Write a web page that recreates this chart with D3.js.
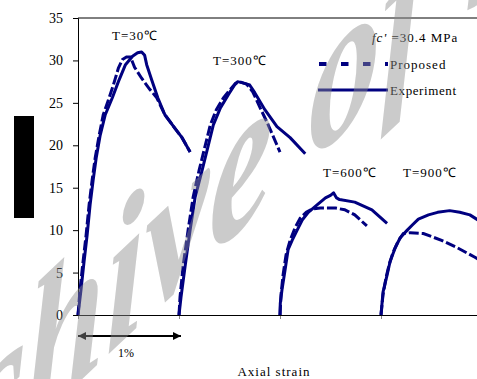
<!DOCTYPE html>
<html><head><meta charset="utf-8">
<script src="https://cdn.jsdelivr.net/npm/d3@7"></script>
<style>body{margin:0;background:#fff}svg{display:block}text{font-family:"Liberation Serif","Times New Roman",serif}</style>
</head><body>
<svg id="c" width="477" height="379"></svg>
<script>
// ---- data ----
const temperatures = ["T=30℃","T=300℃","T=600℃","T=900℃"];
const strainShift = [0, 1, 2, 3]; // each curve shifted by 1% strain
const yTicks = [0,5,10,15,20,25,30,35];
const xTicks = [0,1,2,3];

const exp30Strain = [0,0.03,0.06,0.09,0.12,0.15,0.18,0.22,0.27,0.34,0.40,0.47,0.54,0.59,0.63,0.66,0.68,0.73,0.79,0.86,0.96,1.03,1.11];
const exp30Stress = [0,3.0,6.3,9.4,13.0,15.9,18.5,21.2,23.6,25.6,27.5,29.5,30.5,30.9,31.0,30.6,29.5,27.7,25.6,23.6,22.0,20.9,19.2];
const pro30Strain = [0,0.02,0.05,0.08,0.11,0.14,0.17,0.21,0.25,0.30,0.35,0.40,0.44,0.48,0.52,0.56,0.63,0.71,0.78,0.86,0.96,1.03,1.11];
const pro30Stress = [0,3.0,6.3,9.4,13.0,15.9,18.5,21.2,23.6,25.3,27.1,29.1,30.1,30.4,30.4,29.2,27.9,26.6,25.6,23.6,22.0,20.9,19.2];

const exp300Strain = [0,0.02,0.06,0.11,0.16,0.23,0.29,0.34,0.41,0.49,0.55,0.58,0.65,0.70,0.75,0.85,0.97,1.10,1.25];
const exp300Stress = [0,2.1,5.7,10.0,13.9,17.1,20.0,22.4,24.4,26.0,27.1,27.5,27.3,27.1,26.2,24.2,22.2,20.9,19.0];
const pro300Strain = [0,0.01,0.04,0.09,0.14,0.20,0.26,0.31,0.37,0.44,0.51,0.56,0.60,0.67,0.73,0.80,0.88,1.00];
const pro300Stress = [0,2.1,5.7,10.0,13.9,17.1,20.0,22.4,24.2,25.6,26.6,27.3,27.5,27.2,26.3,24.5,22.5,19.2];

const exp600Strain = [0,0.003,0.02,0.05,0.08,0.12,0.17,0.22,0.28,0.37,0.45,0.50,0.53,0.56,0.59,0.74,0.91,1.06];
const exp600Stress = [0,1.4,3.0,5.3,7.7,8.8,10.0,11.2,12.1,13.0,13.8,14.1,14.4,13.8,13.6,13.3,12.4,10.8];
const pro600Strain = [0,0.01,0.03,0.06,0.10,0.15,0.20,0.26,0.32,0.40,0.55,0.64,0.74,0.86];
const pro600Stress = [0,2.4,4.7,7.1,8.8,10.3,11.4,12.1,12.5,12.6,12.6,12.4,11.8,10.5];

const exp900Strain = [0,0.02,0.06,0.09,0.14,0.19,0.26,0.31,0.37,0.47,0.56,0.68,0.78,0.88,0.96,1.03];
const exp900Stress = [0,2.7,4.7,6.3,7.9,9.1,10.0,10.6,11.3,11.8,12.1,12.3,12.1,11.8,11.2,10.6];
const pro900Strain = [0,0.02,0.05,0.08,0.12,0.17,0.22,0.29,0.42,0.60,0.76,0.93,1.03];
const pro900Stress = [0,2.4,4.4,5.9,7.4,8.7,9.6,9.7,9.6,8.8,7.9,6.8,6.1];

const experimentStrain = [exp30Strain, exp300Strain, exp600Strain, exp900Strain];
const experimentStress = [exp30Stress, exp300Stress, exp600Stress, exp900Stress];
const proposedStrain = [pro30Strain, pro300Strain, pro600Strain, pro900Strain];
const proposedStress = [pro30Stress, pro300Stress, pro600Stress, pro900Stress];

// ---- drawing ----
(function draw() {
const svg = d3.select("#c");
const W = 477, H = 379;
const mLeft = 78, mTop = 18, mBottom = 315;
const x = d3.scaleLinear().domain([0,4]).range([mLeft, mLeft + 404]);
const y = d3.scaleLinear().domain([0,35]).range([mBottom, mTop]);
const navy = "#000080";

svg.append("rect").attr("width", W).attr("height", H).attr("fill", "#fff");

// frame top
svg.append("line").attr("x1", mLeft).attr("x2", W).attr("y1", y(35)).attr("y2", y(35))
  .attr("stroke", "#000").attr("stroke-width", 1);

// y axis
const ya = svg.append("g").attr("transform", `translate(${mLeft},0)`)
  .call(d3.axisLeft(y).tickValues(yTicks).tickSize(5).tickPadding(10));
ya.select(".domain").attr("stroke", "#000");
ya.selectAll(".tick line").attr("stroke", "#000");
ya.selectAll("text").attr("font-size", 14).attr("font-family", "Liberation Serif").attr("fill", "#000");

// x axis
const xa = svg.append("g").attr("transform", `translate(0,${mBottom})`)
  .call(d3.axisBottom(x).tickValues(xTicks).tickSize(4).tickFormat(""));
xa.select(".domain").remove();
xa.selectAll(".tick line").attr("stroke", "#888");
svg.append("line").attr("x1", mLeft).attr("x2", W).attr("y1", mBottom + 0.5).attr("y2", mBottom + 0.5)
  .attr("stroke", "#000");

// curves
const line = d3.line().x(d => x(d[0])).y(d => y(d[1]));
const clip = svg.append("clipPath").attr("id", "pc");
clip.append("rect").attr("x", mLeft - 3).attr("y", 0).attr("width", W).attr("height", mBottom + 1);
const curves = svg.append("g").attr("clip-path", "url(#pc)");
temperatures.forEach((t, i) => {
  const pd = proposedStrain[i].map((s, j) => [s + strainShift[i], proposedStress[i][j]]);
  const ed = experimentStrain[i].map((s, j) => [s + strainShift[i], experimentStress[i][j]]);
  curves.append("path").attr("d", line(pd)).attr("fill", "none").attr("stroke", navy)
    .attr("stroke-width", 3).attr("stroke-dasharray", "10,3");
  curves.append("path").attr("d", line(ed)).attr("fill", "none").attr("stroke", navy)
    .attr("stroke-width", 3).attr("stroke-linejoin", "round");
});

// temperature labels
const tLabelPos = [[112, 40], [213, 65], [323, 177], [403, 177]];
temperatures.forEach((t, i) => {
  svg.append("text").attr("x", tLabelPos[i][0]).attr("y", tLabelPos[i][1])
    .attr("font-size", 13).attr("letter-spacing", 1).text(t);
});

// fc' label
const fc = svg.append("text").attr("x", 372).attr("y", 42).attr("font-size", 13).attr("letter-spacing", 1);
fc.append("tspan").attr("font-style", "italic").text("fc'");
fc.append("tspan").text(" =30.4 MPa");

// legend
svg.append("line").attr("x1", 319).attr("x2", 388).attr("y1", 64).attr("y2", 64)
  .attr("stroke", navy).attr("stroke-width", 4).attr("stroke-dasharray", "7.5,14.5");
svg.append("text").attr("x", 390).attr("y", 69).attr("font-size", 13).attr("letter-spacing", 1).text("Proposed");
svg.append("line").attr("x1", 318).attr("x2", 388).attr("y1", 90).attr("y2", 90)
  .attr("stroke", navy).attr("stroke-width", 3);
svg.append("text").attr("x", 390).attr("y", 95).attr("font-size", 13).attr("letter-spacing", 0.6).text("Experiment");

// 1% arrow
const defs = svg.append("defs");
defs.append("marker").attr("id", "ah").attr("viewBox", "0 0 10 10").attr("refX", 10).attr("refY", 5)
  .attr("markerWidth", 7).attr("markerHeight", 4).attr("markerUnits", "strokeWidth").attr("orient", "auto-start-reverse")
  .append("path").attr("d", "M0,0L10,5L0,10Z").attr("fill", "#000");
svg.append("line").attr("x1", x(0)).attr("x2", x(1) + 2).attr("y1", 336).attr("y2", 336)
  .attr("stroke", "#000").attr("stroke-width", 2)
  .attr("marker-start", "url(#ah)").attr("marker-end", "url(#ah)");
svg.append("text").attr("x", 126).attr("y", 357).attr("text-anchor", "middle").attr("font-size", 12).text("1%");

// x axis title
svg.append("text").attr("x", 274).attr("y", 376).attr("text-anchor", "middle").attr("font-size", 13)
  .attr("letter-spacing", 1).text("Axial strain");

// redacted y title
svg.append("rect").attr("x", 14).attr("y", 116).attr("width", 20).attr("height", 102).attr("fill", "#000");

// watermark
svg.append("g").attr("transform", "translate(-191,637) matrix(0.72,-0.68,0,1,0,0)")
  .append("text").attr("font-size", 200).attr("font-weight", "bold").attr("font-style", "italic")
  .attr("fill", "#8c8c8c").attr("fill-opacity", 0.45).text("Archive of SID");
})();
</script>
</body></html>
